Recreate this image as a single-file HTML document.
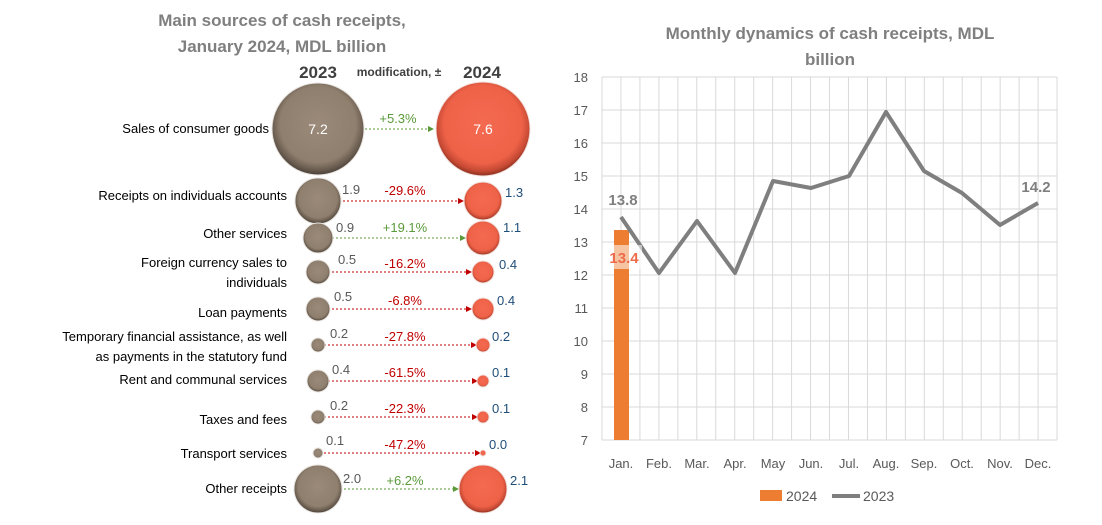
<!DOCTYPE html><html><head><style>
body{margin:0;width:1102px;height:520px;background:#fff;font-family:"Liberation Sans",sans-serif;overflow:hidden}
</style></head><body>
<svg width="1102" height="520" xmlns="http://www.w3.org/2000/svg" font-family="Liberation Sans, sans-serif">
<defs>
<radialGradient id="gb" cx="50%" cy="45%" r="55%"><stop offset="0" stop-color="#9b8a79"/><stop offset="0.75" stop-color="#8f7f6e"/><stop offset="0.9" stop-color="#6a5d50"/><stop offset="1" stop-color="#4a4038"/></radialGradient>
<radialGradient id="gr" cx="50%" cy="45%" r="55%"><stop offset="0" stop-color="#f46a50"/><stop offset="0.75" stop-color="#ee6248"/><stop offset="0.9" stop-color="#c84a34"/><stop offset="1" stop-color="#8a3020"/></radialGradient>
<marker id="ag" markerWidth="6" markerHeight="6" refX="5" refY="3" orient="auto"><path d="M0,0L6,3L0,6z" fill="#5a9a3a"/></marker>
<marker id="ar" markerWidth="6" markerHeight="6" refX="5" refY="3" orient="auto"><path d="M0,0L6,3L0,6z" fill="#c00000"/></marker>
</defs>
<g fill="#7f7f7f" font-weight="bold" font-size="17" text-anchor="middle">
<text x="282" y="26">Main sources of cash receipts,</text>
<text x="282" y="52">January 2024, MDL billion</text>
<text x="830" y="39">Monthly dynamics of cash receipts, MDL</text>
<text x="830" y="65">billion</text>
</g>
<g fill="#404040" font-weight="bold" text-anchor="middle">
<text x="318" y="78" font-size="17">2023</text>
<text x="399" y="76" font-size="12">modification, ±</text>
<text x="482" y="78" font-size="17">2024</text>
</g>
<g font-size="13" fill="#000" text-anchor="end">
<text x="269" y="133">Sales of consumer goods</text>
<text x="287" y="200">Receipts on individuals accounts</text>
<text x="287" y="238">Other services</text>
<text x="287" y="267">Foreign currency sales to</text>
<text x="287" y="287">individuals</text>
<text x="287" y="317">Loan payments</text>
<text x="287" y="341">Temporary financial assistance, as well</text>
<text x="287" y="361">as payments in the statutory fund</text>
<text x="287" y="384">Rent and communal services</text>
<text x="287" y="424">Taxes and fees</text>
<text x="287" y="458">Transport services</text>
<text x="287" y="493">Other receipts</text>
</g>
<g stroke-dasharray="2,2" stroke-width="1" fill="none">
<line x1="345" y1="129" x2="433" y2="129" stroke="#5a9a3a" marker-end="url(#ag)"/>
<line x1="323" y1="201" x2="463" y2="201" stroke="#c00000" marker-end="url(#ar)"/>
<line x1="320" y1="238" x2="465" y2="238" stroke="#5a9a3a" marker-end="url(#ag)"/>
<line x1="320" y1="272" x2="471" y2="272" stroke="#c00000" marker-end="url(#ar)"/>
<line x1="320" y1="309" x2="471" y2="309" stroke="#c00000" marker-end="url(#ar)"/>
<line x1="320" y1="345" x2="476" y2="345" stroke="#c00000" marker-end="url(#ar)"/>
<line x1="320" y1="381" x2="477" y2="381" stroke="#c00000" marker-end="url(#ar)"/>
<line x1="320" y1="417" x2="477" y2="417" stroke="#c00000" marker-end="url(#ar)"/>
<line x1="320" y1="453" x2="480" y2="453" stroke="#c00000" marker-end="url(#ar)"/>
<line x1="340" y1="489" x2="458" y2="489" stroke="#5a9a3a" marker-end="url(#ag)"/>
</g>
<g fill="url(#gb)" stroke="#e8e4e0" stroke-width="1">
<circle cx="318" cy="129" r="46"/><circle cx="318" cy="201" r="23"/><circle cx="318" cy="238" r="15"/>
<circle cx="318" cy="272" r="12"/><circle cx="318" cy="309" r="12"/><circle cx="318" cy="345" r="7"/>
<circle cx="318" cy="381" r="11"/><circle cx="318" cy="417" r="7"/><circle cx="318" cy="453" r="5"/>
<circle cx="318" cy="489" r="24"/>
</g>
<g fill="url(#gr)" stroke="#f0e0dc" stroke-width="1">
<circle cx="483" cy="129" r="47"/><circle cx="483" cy="201" r="19"/><circle cx="483" cy="238" r="17"/>
<circle cx="483" cy="272" r="11"/><circle cx="483" cy="309" r="11"/><circle cx="483" cy="345" r="7"/>
<circle cx="483" cy="381" r="6"/><circle cx="483" cy="417" r="6"/><circle cx="483" cy="453" r="3"/>
<circle cx="483" cy="489" r="24"/>
</g>
<g font-size="14" fill="#fff" text-anchor="middle"><text x="318" y="134">7.2</text><text x="483" y="134">7.6</text></g>
<g font-size="13" fill="#595959">
<text x="342" y="194">1.9</text><text x="336" y="232">0.9</text><text x="338" y="264">0.5</text><text x="334" y="301">0.5</text>
<text x="330" y="338">0.2</text><text x="332" y="374">0.4</text><text x="330" y="410">0.2</text><text x="326" y="445">0.1</text><text x="343" y="483">2.0</text>
</g>
<g font-size="13" fill="#1f4e79">
<text x="505" y="197">1.3</text><text x="503" y="232">1.1</text><text x="499" y="269">0.4</text><text x="497" y="305">0.4</text>
<text x="492" y="341">0.2</text><text x="492" y="377">0.1</text><text x="492" y="413">0.1</text><text x="489" y="449">0.0</text><text x="510" y="485">2.1</text>
</g>
<g font-size="13" text-anchor="middle">
<text x="398" y="123" fill="#5a9a3a">+5.3%</text>
<text x="405" y="195" fill="#c00000">-29.6%</text>
<text x="405" y="232" fill="#5a9a3a">+19.1%</text>
<text x="405" y="268" fill="#c00000">-16.2%</text>
<text x="405" y="305" fill="#c00000">-6.8%</text>
<text x="405" y="341" fill="#c00000">-27.8%</text>
<text x="405" y="377" fill="#c00000">-61.5%</text>
<text x="405" y="413" fill="#c00000">-22.3%</text>
<text x="405" y="449" fill="#c00000">-47.2%</text>
<text x="405" y="485" fill="#5a9a3a">+6.2%</text>
</g>
<!-- right chart -->
<g stroke="#d9d9d9" stroke-width="1">
<line x1="602" y1="77" x2="1057" y2="77"/><line x1="602" y1="110" x2="1057" y2="110"/><line x1="602" y1="143" x2="1057" y2="143"/>
<line x1="602" y1="176" x2="1057" y2="176"/><line x1="602" y1="209" x2="1057" y2="209"/><line x1="602" y1="242" x2="1057" y2="242"/>
<line x1="602" y1="275" x2="1057" y2="275"/><line x1="602" y1="308" x2="1057" y2="308"/><line x1="602" y1="341" x2="1057" y2="341"/>
<line x1="602" y1="374" x2="1057" y2="374"/><line x1="602" y1="407" x2="1057" y2="407"/><line x1="602" y1="440" x2="1057" y2="440"/>
</g>
<g stroke="#d9d9d9" stroke-width="1" id="vg"></g>
<script>
var g=document.getElementById('vg');for(var i=0;i<=24;i++){var x=602+i*18.96;var l=document.createElementNS('http://www.w3.org/2000/svg','line');l.setAttribute('x1',x);l.setAttribute('x2',x);l.setAttribute('y1',77);l.setAttribute('y2',440);g.appendChild(l);}
</script>
<g font-size="13" fill="#595959" text-anchor="end">
<text x="588" y="82">18</text><text x="588" y="115">17</text><text x="588" y="148">16</text><text x="588" y="181">15</text>
<text x="588" y="214">14</text><text x="588" y="247">13</text><text x="588" y="280">12</text><text x="588" y="313">11</text>
<text x="588" y="346">10</text><text x="588" y="379">9</text><text x="588" y="412">8</text><text x="588" y="445">7</text>
</g>
<g font-size="13" fill="#595959" text-anchor="middle">
<text x="621" y="468">Jan.</text><text x="659" y="468">Feb.</text><text x="697" y="468">Mar.</text><text x="735" y="468">Apr.</text>
<text x="773" y="468">May</text><text x="811" y="468">Jun.</text><text x="849" y="468">Jul.</text><text x="886" y="468">Aug.</text>
<text x="924" y="468">Sep.</text><text x="962" y="468">Oct.</text><text x="1000" y="468">Nov.</text><text x="1038" y="468">Dec.</text>
</g>
<rect x="614" y="230" width="15" height="210" fill="#ed7d31"/>
<polyline fill="none" stroke="#7f7f7f" stroke-width="4" stroke-linejoin="round" points="621,217 659,273 697,221 735,273 773,181 811,188 849,176 886,112 924,171 962,193 1000,225 1038,203"/>
<rect x="607" y="245" width="35" height="24" fill="#fff" opacity="0.55"/>
<text x="624" y="263" font-size="15" font-weight="bold" fill="#ed6a4a" text-anchor="middle">13.4</text>
<text x="623" y="205" font-size="15" font-weight="bold" fill="#7f7f7f" text-anchor="middle">13.8</text>
<text x="1036" y="192" font-size="15" font-weight="bold" fill="#7f7f7f" text-anchor="middle">14.2</text>
<rect x="760" y="490" width="22" height="11" fill="#ed7d31"/>
<text x="786" y="501" font-size="14" fill="#595959">2024</text>
<line x1="832" y1="496" x2="860" y2="496" stroke="#7f7f7f" stroke-width="4"/>
<text x="863" y="501" font-size="14" fill="#595959">2023</text>
</svg>
</body></html>
